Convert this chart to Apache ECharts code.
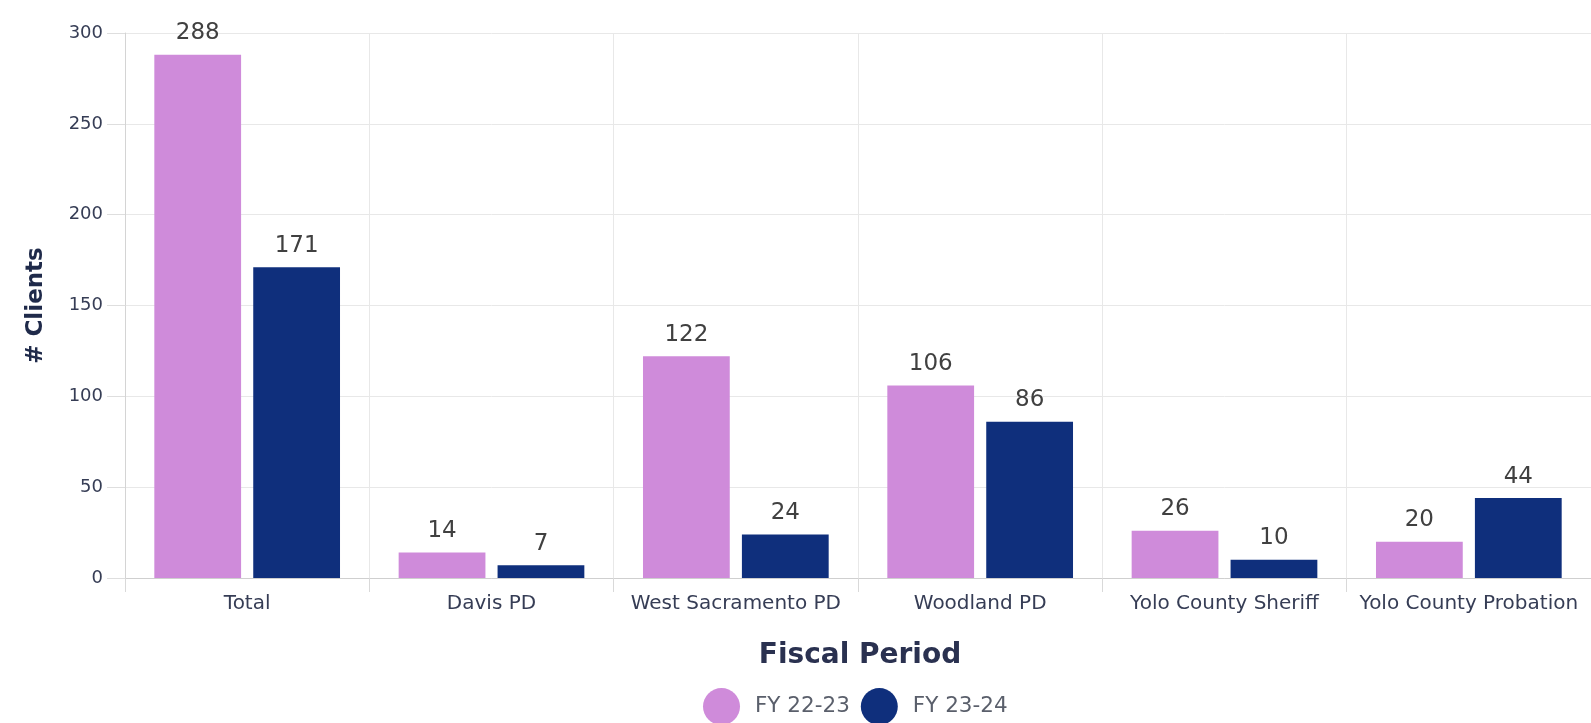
<!DOCTYPE html>
<html>
<head>
<meta charset="utf-8">
<script src="https://cdn.jsdelivr.net/npm/echarts@6/dist/echarts.min.js"></script>
<style>
html,body{margin:0;padding:0;background:#fff;}
#chart{width:1591px;height:723px;}
</style>
</head>
<body>
<div id="chart"></div>
<script>
const categories = ["Total", "Davis PD", "West Sacramento PD", "Woodland PD", "Yolo County Sheriff", "Yolo County Probation"];
const fy2223 = [288, 14, 122, 106, 26, 20];
const fy2324 = [171, 7, 24, 86, 10, 44];
const seriesNames = ["FY 22-23", "FY 23-24"];
const yTicks = { min: 0, max: 300, interval: 50 };

const FONT = "'DejaVu Sans', Verdana, sans-serif";
const chart = echarts.init(document.getElementById('chart'), null, { renderer: 'canvas' });

const labelStyle = {
  show: true, position: 'top', distance: 10,
  color: '#404040', fontSize: 23, fontFamily: FONT
};

chart.setOption({
  animation: false,
  backgroundColor: '#ffffff',
  grid: { left: 125, right: -6, top: 33, bottom: 145, containLabel: false },
  legend: {
    data: seriesNames,
    left: 703, top: 688, padding: 0,
    icon: 'circle', itemWidth: 37, itemHeight: 37, itemGap: 11,
    textStyle: { color: '#5a5f6b', fontSize: 21.5, fontFamily: FONT, padding: [0, 0, 0, 10] }
  },
  graphic: [{
    type: 'text', x: 860, y: 656,
    style: {
      text: 'Fiscal Period', fill: '#2a3150',
      font: 'bold 28px ' + FONT, textAlign: 'center', textVerticalAlign: 'middle'
    }
  }],
  xAxis: {
    type: 'category',
    data: categories,
    axisLine: { show: true, lineStyle: { color: '#cfcfcf' } },
    axisTick: { show: true, interval: 0, length: 14, lineStyle: { color: '#d9d9d9' } },
    splitLine: { show: true, interval: 0, lineStyle: { color: '#e8e8e8' } },
    axisLabel: { interval: 0, color: '#363d55', fontSize: 20, fontFamily: FONT, margin: 16 }
  },
  yAxis: {
    type: 'value',
    min: yTicks.min, max: yTicks.max, interval: yTicks.interval,
    name: '# Clients', nameLocation: 'middle', nameGap: 77,
    nameTextStyle: { color: '#1f2a4a', fontSize: 23, fontWeight: 'bold', fontFamily: FONT },
    axisLine: { show: true, lineStyle: { color: '#d4d4d4' } },
    axisTick: { show: true, length: 18, lineStyle: { color: '#dedede' } },
    splitLine: { show: true, lineStyle: { color: '#e8e8e8' } },
    axisLabel: { color: '#363d55', fontSize: 18, fontFamily: FONT, margin: 22 }
  },
  series: [
    {
      name: seriesNames[0], type: 'bar', data: fy2223,
      itemStyle: { color: '#CF8BDA' },
      barCategoryGap: '24%', barGap: '14%',
      label: labelStyle
    },
    {
      name: seriesNames[1], type: 'bar', data: fy2324,
      itemStyle: { color: '#0F2F7C' },
      barCategoryGap: '24%', barGap: '14%',
      label: labelStyle
    }
  ]
});
</script>
</body>
</html>
